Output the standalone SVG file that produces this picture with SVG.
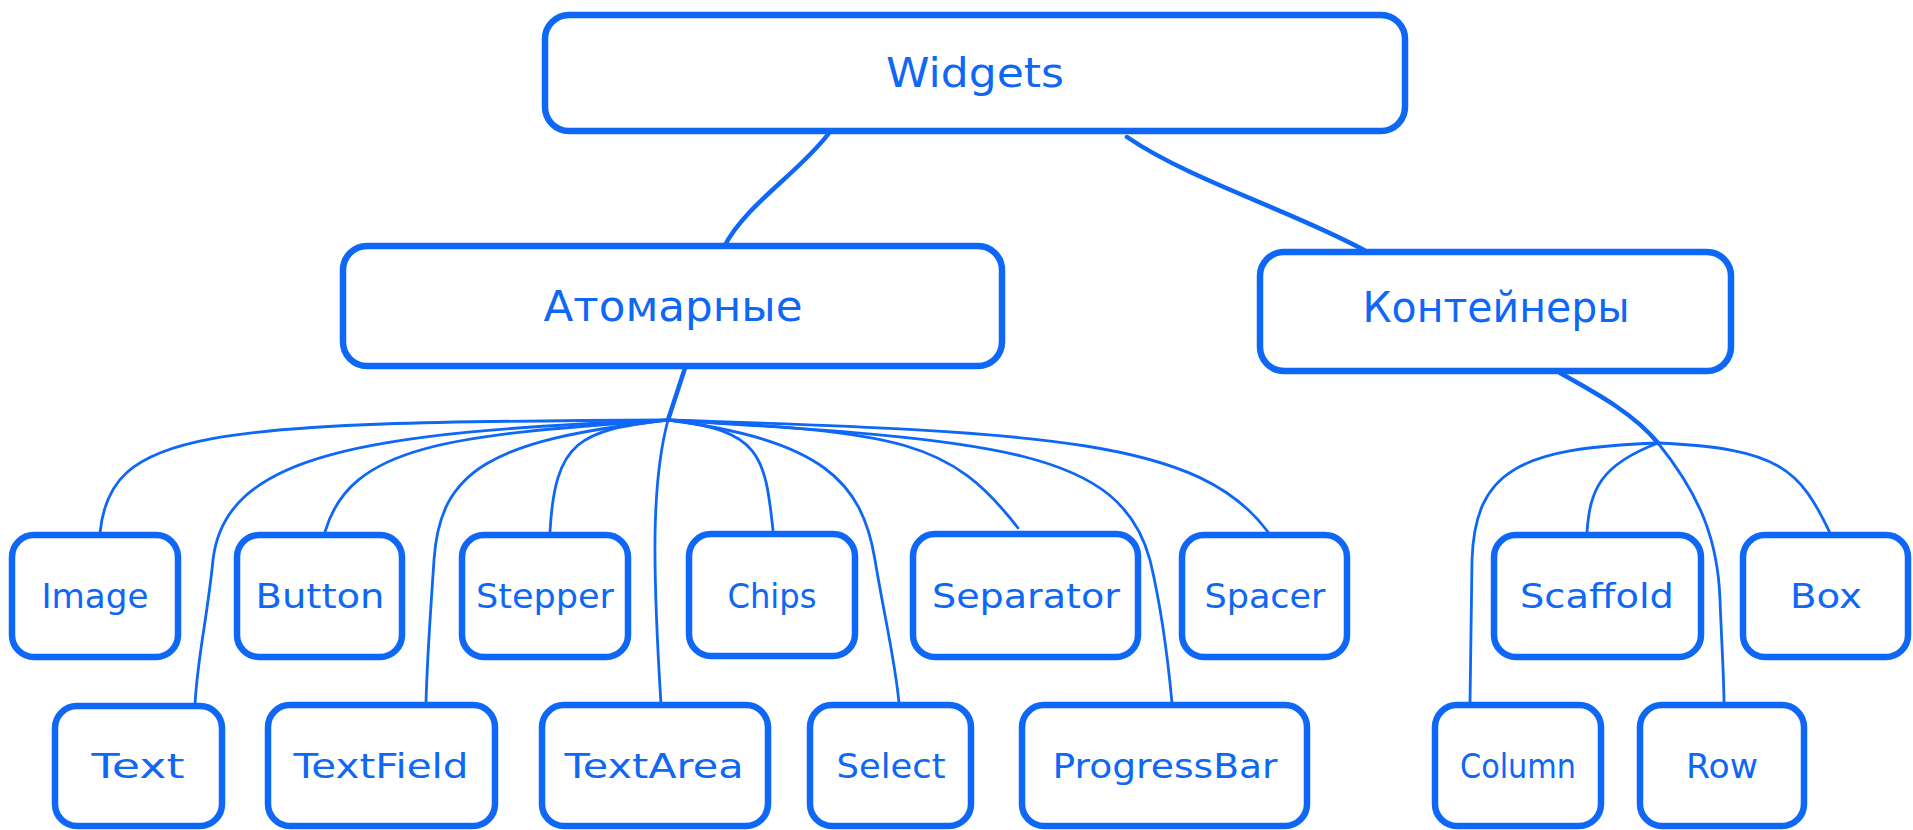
<svg xmlns="http://www.w3.org/2000/svg" width="1913" height="830" viewBox="0 0 1913 830">
<style>
.box{fill:#ffffff;stroke:#0f67f5;stroke-width:6.5;}
.lbl{font-family:"DejaVu Sans","Liberation Sans",sans-serif;fill:#0f67f5;text-anchor:middle;font-size:33px;}
.big{font-size:40px;}
.cyr{font-size:42px;}
.c{fill:none;stroke:#0f67f5;stroke-width:2.8;stroke-linecap:round;}
.ct{fill:none;stroke:#0f67f5;stroke-width:4.5;stroke-linecap:round;}
</style>
<g id="connectors">
<path class="ct" d="M829,133 C800,172 745,205 724,247"/>
<path class="ct" d="M1127,137 C1190,180 1290,210 1364,250"/>
<path class="ct" d="M685,368 L668,420"/>
<path class="c" d="M668,420 C652,480 652,560 661,704"/>
<path class="c" d="M668,420 C200,422 110,430 100,533"/>
<path class="c" d="M668,420 C360,432 225,455 213,560 C207,620 197,660 195,705"/>
<path class="c" d="M668,420 C450,435 350,445 325,532"/>
<path class="c" d="M668,420 C490,440 440,470 434,560 C430,620 427,660 426,703"/>
<path class="c" d="M668,420 C580,430 555,440 550,532"/>
<path class="c" d="M668,420 C760,430 765,455 773,530"/>
<path class="c" d="M668,420 C820,440 862,480 875,560 C885,620 895,660 899,703"/>
<path class="c" d="M668,420 C900,432 950,440 1018,528"/>
<path class="c" d="M668,420 C1000,440 1120,450 1150,560 C1162,610 1168,660 1172,703"/>
<path class="c" d="M668,420 C1050,432 1200,440 1268,532"/>
<path class="ct" d="M1560,373 C1600,395 1635,415 1658,443"/>
<path class="c" d="M1658,443 C1700,495 1718,540 1720,600 C1722,650 1724,680 1724,704"/>
<path class="c" d="M1658,443 C1520,448 1475,470 1472,560 L1470,703"/>
<path class="c" d="M1658,443 C1600,465 1590,490 1587,532"/>
<path class="c" d="M1658,443 C1780,448 1800,470 1830,533"/>
</g>
<g id="n-widgets"><rect class="box" x="545" y="15" width="860" height="116" rx="24"/><text class="lbl big" x="975" y="87" textLength="178" lengthAdjust="spacingAndGlyphs">Widgets</text></g>
<g id="n-atomic"><rect class="box" x="343" y="246" width="659" height="120" rx="24"/><text class="lbl cyr" x="673" y="321" textLength="259" lengthAdjust="spacingAndGlyphs">Атомарные</text></g>
<g id="n-containers"><rect class="box" x="1260" y="252" width="471" height="119" rx="24"/><text class="lbl cyr" x="1496" y="322" textLength="267" lengthAdjust="spacingAndGlyphs">Контейнеры</text></g>
<g id="n-image"><rect class="box" x="12" y="535" width="166" height="122" rx="22"/><text class="lbl" x="95" y="608" textLength="107" lengthAdjust="spacingAndGlyphs">Image</text></g>
<g id="n-button"><rect class="box" x="237" y="535" width="165" height="122" rx="22"/><text class="lbl" x="320" y="608" textLength="129" lengthAdjust="spacingAndGlyphs">Button</text></g>
<g id="n-stepper"><rect class="box" x="462" y="535" width="166" height="122" rx="22"/><text class="lbl" x="545" y="608" textLength="138" lengthAdjust="spacingAndGlyphs">Stepper</text></g>
<g id="n-chips"><rect class="box" x="689" y="534" width="166" height="122" rx="22"/><text class="lbl" x="772" y="608" textLength="89" lengthAdjust="spacingAndGlyphs">Chips</text></g>
<g id="n-separator"><rect class="box" x="913" y="534" width="225" height="123" rx="22"/><text class="lbl" x="1026" y="608" textLength="188" lengthAdjust="spacingAndGlyphs">Separator</text></g>
<g id="n-spacer"><rect class="box" x="1182" y="535" width="165" height="122" rx="22"/><text class="lbl" x="1265" y="608" textLength="121" lengthAdjust="spacingAndGlyphs">Spacer</text></g>
<g id="n-scaffold"><rect class="box" x="1494" y="535" width="207" height="122" rx="22"/><text class="lbl" x="1597" y="608" textLength="154" lengthAdjust="spacingAndGlyphs">Scaffold</text></g>
<g id="n-box"><rect class="box" x="1743" y="535" width="165" height="122" rx="22"/><text class="lbl" x="1826" y="608" textLength="72" lengthAdjust="spacingAndGlyphs">Box</text></g>
<g id="n-text"><rect class="box" x="55" y="706" width="167" height="120" rx="22"/><text class="lbl" x="138" y="778" textLength="93" lengthAdjust="spacingAndGlyphs">Text</text></g>
<g id="n-textfield"><rect class="box" x="268" y="705" width="227" height="121" rx="22"/><text class="lbl" x="381" y="778" textLength="175" lengthAdjust="spacingAndGlyphs">TextField</text></g>
<g id="n-textarea"><rect class="box" x="542" y="705" width="226" height="121" rx="22"/><text class="lbl" x="654" y="778" textLength="179" lengthAdjust="spacingAndGlyphs">TextArea</text></g>
<g id="n-select"><rect class="box" x="810" y="705" width="161" height="121" rx="22"/><text class="lbl" x="891" y="778" textLength="109" lengthAdjust="spacingAndGlyphs">Select</text></g>
<g id="n-progressbar"><rect class="box" x="1022" y="705" width="285" height="121" rx="22"/><text class="lbl" x="1165" y="778" textLength="225" lengthAdjust="spacingAndGlyphs">ProgressBar</text></g>
<g id="n-column"><rect class="box" x="1435" y="705" width="166" height="121" rx="22"/><text class="lbl" x="1518" y="778" textLength="116" lengthAdjust="spacingAndGlyphs">Column</text></g>
<g id="n-row"><rect class="box" x="1640" y="705" width="164" height="121" rx="22"/><text class="lbl" x="1722" y="778" textLength="72" lengthAdjust="spacingAndGlyphs">Row</text></g>
</svg>
